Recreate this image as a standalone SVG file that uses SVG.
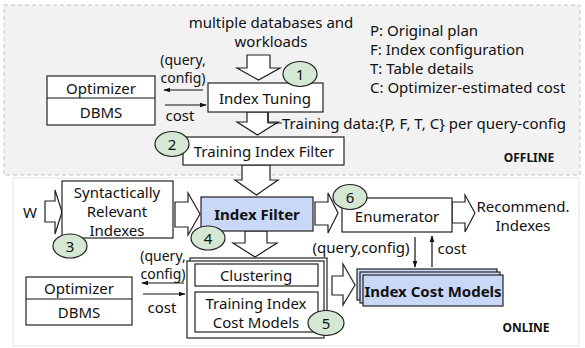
<svg xmlns="http://www.w3.org/2000/svg" width="585" height="348" viewBox="0 0 585 348">
<defs>
<style>
text{font-family:"Noto Sans","Open Sans",sans-serif;font-size:15px;fill:#111;text-anchor:middle;dominant-baseline:central}
.l{text-anchor:start}
.b{font-weight:bold}
.s{font-size:14px}
.box{fill:#fff;stroke:#222;stroke-width:1.2}
.blue{fill:#c9d8f7;stroke:#222;stroke-width:1.2}
.circ{fill:#d5e8d4;stroke:#222;stroke-width:1.2}
.ha{fill:#fff;stroke:#222;stroke-width:1.2;stroke-linejoin:miter}
.ln{stroke:#111;stroke-width:1.2;fill:none}
</style>
<marker id="ah" viewBox="0 0 10 10" refX="9" refY="5" markerWidth="6" markerHeight="6" orient="auto">
<path d="M0,1.5 L10,5 L0,8.5 z" fill="#111"/>
</marker>
</defs>
<!-- panels -->
<rect x="4" y="5" width="576" height="170" fill="#f2f2f2" stroke="#c4c4c4" stroke-dasharray="4 3"/>
<rect x="13" y="178" width="566" height="168" fill="#fff" stroke="#e2e2e2"/>

<g id="connectors">
<!-- offline -->
<path class="ha" d="M247,55 L270,55 L270,68 L280,68 L258.5,80 L237,68 L247,68 Z"/>
<line class="ln" x1="203" y1="90" x2="164" y2="90" marker-end="url(#ah)"/>
<line class="ln" x1="165" y1="105" x2="206" y2="105" marker-end="url(#ah)"/>
<path class="ha" d="M247,112 L268,112 L268,122 L278,122 L257.5,135 L237,122 L247,122 Z"/>
<path class="ln" d="M268,112 L268,123 L282,123"/>
<!-- online -->
<path class="ha" d="M242,165 L270,165 L270,180 L278,180 L256.5,195 L235,180 L242,180 Z"/>
<path class="ha" d="M45,201 L55,201 L55,190 L62,212 L55,234 L55,222 L45,222 Z"/>
<path class="ha" d="M175,202 L188,202 L188,193 L200,214 L188,235 L188,227 L175,227 Z"/>
<path class="ha" d="M315,202 L328,202 L328,193 L338,213 L328,233 L328,225 L315,225 Z"/>
<path class="ha" d="M452,202 L465,202 L465,195 L475,213 L465,232 L465,223 L452,223 Z"/>
<path class="ha" d="M245,231 L267,231 L267,243 L277,243 L255,257 L233,243 L245,243 Z"/>
<path class="ha" d="M332,276 L343,276 L343,264 L355,285 L343,305 L343,295 L332,295 Z"/>
<line class="ln" x1="184" y1="283" x2="142" y2="283" marker-end="url(#ah)"/>
<line class="ln" x1="143" y1="294" x2="185" y2="294" marker-end="url(#ah)"/>
<line class="ln" x1="415" y1="237" x2="415" y2="267" marker-end="url(#ah)"/>
<line class="ln" x1="432" y1="267" x2="432" y2="236" marker-end="url(#ah)"/>
</g>

<!-- offline texts -->
<text x="271" y="22">multiple databases and</text>
<text x="271" y="41">workloads</text>
<text class="s" x="183" y="59">(query,</text>
<text class="s" x="183" y="77">config)</text>
<text x="180" y="115">cost</text>
<text class="l" x="282" y="123">Training data:{P, F, T, C} per query-config</text>
<text class="l" x="370" y="30">P: Original plan</text>
<text class="l" x="370" y="49">F: Index configuration</text>
<text class="l" x="370" y="68">T: Table details</text>
<text class="l" x="370" y="87">C: Optimizer-estimated cost</text>
<text class="b" x="529" y="157" style="font-size:12px">OFFLINE</text>

<g id="optimizer1">
<rect class="box" x="47" y="76" width="108" height="49"/>
<line class="ln" x1="47" y1="98" x2="155" y2="98"/>
<text x="101" y="88">Optimizer</text>
<text x="101" y="112">DBMS</text>
</g>
<g id="index-tuning">
<rect class="box" x="208" y="83" width="115" height="29"/>
<text x="265" y="98">Index Tuning</text>
</g>
<g id="c1"><ellipse class="circ" cx="300" cy="74" rx="17" ry="12.5"/><text x="300" y="74">1</text></g>
<g id="training-index-filter">
<rect class="box" x="183" y="137" width="161" height="28"/>
<text x="264" y="151">Training Index Filter</text>
</g>
<g id="c2"><ellipse class="circ" cx="172" cy="144" rx="17" ry="12.5"/><text x="172" y="144">2</text></g>

<!-- online -->
<text x="30" y="212">W</text>
<g id="sri">
<rect class="box" x="62" y="181" width="111" height="57"/>
<text x="117" y="192">Syntactically</text>
<text x="117" y="211">Relevant</text>
<text x="117" y="230">Indexes</text>
</g>
<g id="c3"><ellipse class="circ" cx="70" cy="246" rx="17" ry="12"/><text x="70" y="246">3</text></g>
<g id="index-filter">
<rect class="blue" x="201" y="197" width="112" height="34"/>
<text class="b" x="257" y="214">Index Filter</text>
</g>
<g id="c4"><ellipse class="circ" cx="208" cy="238" rx="17" ry="12"/><text x="208" y="238">4</text></g>
<g id="enumerator">
<rect class="box" x="342" y="198" width="110" height="34"/>
<text x="397" y="216">Enumerator</text>
</g>
<g id="c6"><ellipse class="circ" cx="350" cy="197" rx="17" ry="12.5"/><text x="350" y="197">6</text></g>
<text x="523" y="206">Recommend.</text>
<text x="523" y="225">Indexes</text>
<text x="361" y="247">(query,config)</text>
<text x="452" y="248">cost</text>

<g id="optimizer2">
<rect class="box" x="26" y="277" width="106" height="48"/>
<line class="ln" x1="26" y1="299" x2="132" y2="299"/>
<text x="79" y="288">Optimizer</text>
<text x="79" y="312">DBMS</text>
</g>
<text class="s" x="163" y="255">(query,</text>
<text class="s" x="163" y="273">config)</text>
<text x="162" y="307">cost</text>

<g id="training-group">
<rect class="box" x="190" y="258" width="137" height="77"/>
<rect class="box" x="187" y="261" width="137" height="77"/>
<rect class="box" x="195" y="264" width="123" height="22"/>
<text x="256" y="275">Clustering</text>
<rect class="box" x="195" y="292" width="123" height="40"/>
<text x="256" y="303">Training Index</text>
<text x="256" y="322">Cost Models</text>
</g>
<g id="c5"><ellipse class="circ" cx="326" cy="323" rx="18" ry="12.5"/><text x="326" y="323">5</text></g>

<g id="index-cost-models">
<rect class="blue" x="357" y="269" width="140" height="31"/>
<rect class="blue" x="360" y="272" width="140" height="31"/>
<rect class="blue" x="363" y="275" width="140" height="31"/>
<text class="b" x="433" y="291">Index Cost Models</text>
</g>
<text class="b" x="526" y="327" style="font-size:12px">ONLINE</text>
</svg>
